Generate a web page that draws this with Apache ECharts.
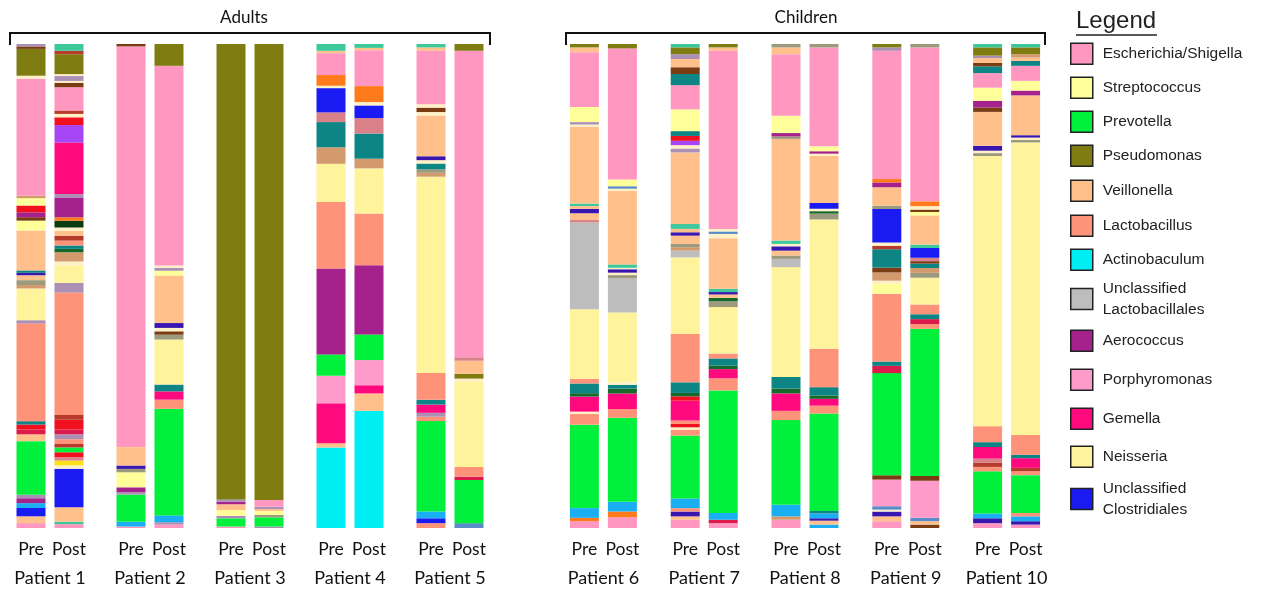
<!DOCTYPE html>
<html>
<head>
<meta charset="utf-8">
<script src="https://cdn.jsdelivr.net/npm/echarts@6/dist/echarts.min.js"></script>
<style>
  html, body { margin: 0; background: #fff; }
  #chart { width: 1278px; height: 590px; }
</style>
</head>
<body>
<div id="chart"></div>
<script>
  // patients in each cohort
  const adults = ['Patient 1', 'Patient 2', 'Patient 3', 'Patient 4', 'Patient 5']
  const children = ['Patient 6', 'Patient 7', 'Patient 8', 'Patient 9', 'Patient 10']
  const timepoints = ['Pre', 'Post']

  // taxa shown in the legend
  const taxaKeys = ['E', 'S', 'P', 'Ps', 'V', 'L', 'A', 'UL', 'Ae', 'Po', 'G', 'N', 'UC']
  const taxaNames = ['Escherichia/Shigella', 'Streptococcus', 'Prevotella', 'Pseudomonas', 'Veillonella',
    'Lactobacillus', 'Actinobaculum', 'Unclassified\nLactobacillales', 'Aerococcus', 'Porphyromonas',
    'Gemella', 'Neisseria', 'Unclassified\nClostridiales']

  // relative abundance (%) per sample, segments listed from top of the bar to bottom
  const p1Pre = [['mau', 0.5], ['brn', 0.5], ['Ps', 5.5], ['crm', 0.6], ['E', 24], ['tan', 0.5], ['S', 1.5], ['red', 1.4], ['Ae', 1], ['brn', 0.7], ['S', 2], ['V', 8.2], ['teal', 0.5], ['ind', 0.5], ['V', 1], ['gry', 1], ['tan', 0.7], ['N', 6.5], ['mau', 0.7], ['L', 20], ['teal', 0.7], ['red', 1], ['crim', 1], ['V', 1.4], ['P', 11], ['mau', 0.7], ['Ae', 1], ['sky', 1], ['UC', 1.7], ['V', 1.4], ['E', 1]]
  const p1Post = [['sea', 1.4], ['brk', 0.7], ['Ps', 4.1], ['crm', 0.4], ['mau', 1], ['crm', 0.4], ['brn', 0.9], ['E', 4.8], ['brk', 0.7], ['crm', 0.7], ['red', 1.6], ['vio', 3.6], ['G', 10.6], ['mau', 0.7], ['Ae', 4.1], ['org', 0.7], ['blk', 1.4], ['crm', 0.7], ['V', 1], ['brk', 1], ['L', 1], ['teal', 0.7], ['dkg', 0.7], ['tan', 1.9], ['crm', 0.8], ['N', 3.6], ['mau', 2], ['L', 25.2], ['brk', 1], ['red', 2], ['crim', 1], ['mau', 1], ['L', 1], ['brk', 0.7], ['P', 1], ['red', 1], ['ros', 0.7], ['yel', 1], ['crm', 0.7], ['UC', 7.9], ['V', 3], ['sea', 0.5], ['E', 0.8]]
  const p2Pre = [['brn', 0.5], ['E', 82.7], ['V', 3.8], ['ind', 0.7], ['gry', 0.7], ['S', 3.1], ['Ae', 1], ['mau', 0.5], ['P', 5.6], ['sky', 1], ['E', 0.3]]
  const p2Post = [['Ps', 4.5], ['E', 41.2], ['crm', 0.5], ['mau', 0.6], ['S', 1], ['V', 9.8], ['ind', 1], ['crm', 0.7], ['brn', 0.7], ['gry', 1], ['N', 9.3], ['teal', 1.4], ['G', 1.7], ['L', 1.9], ['P', 22], ['sky', 1.4], ['mau', 0.5], ['E', 0.7]]
  const p3Pre = [['Ps', 94], ['mau', 0.5], ['Ae', 0.5], ['V', 1.2], ['S', 1.2], ['mau', 0.5], ['P', 1.7], ['E', 0.3]]
  const p3Post = [['Ps', 94.2], ['E', 1.4], ['mau', 0.5], ['V', 0.4], ['S', 0.8], ['gry', 0.5], ['P', 1.9], ['mau', 0.3]]
  const p4Pre = [['sea', 1.4], ['V', 0.5], ['E', 4.5], ['org', 2.2], ['crm', 0.5], ['UC', 5], ['ros', 2], ['teal', 5.2], ['tan', 3.4], ['N', 7.9], ['L', 13.7], ['Ae', 17.7], ['P', 4.4], ['Po', 5.7], ['G', 8.2], ['V', 0.9], ['A', 16.6]]
  const p4Post = [['sea', 0.8], ['V', 0.5], ['E', 7.4], ['org', 3.3], ['crm', 0.7], ['UC', 2.6], ['ros', 3.2], ['teal', 5.2], ['tan', 2], ['N', 9.3], ['L', 10.7], ['Ae', 14.3], ['P', 5.3], ['Po', 5.2], ['G', 1.7], ['V', 3.6], ['A', 24.2]]
  const p5Pre = [['sea', 0.7], ['V', 0.7], ['E', 11], ['crm', 0.7], ['brn', 0.9], ['crm', 0.7], ['V', 8.4], ['ind', 0.8], ['crm', 0.7], ['teal', 1.2], ['gry', 0.7], ['tan', 0.8], ['N', 40.4], ['L', 5.5], ['teal', 1], ['G', 1.7], ['mau', 0.8], ['L', 0.9], ['P', 18.6], ['sky', 1.4], ['UC', 1], ['L', 1]]
  const p5Post = [['Ps', 1.4], ['E', 63.2], ['ros', 0.7], ['V', 2.7], ['Ps', 1], ['crm', 0.7], ['N', 17.5], ['L', 2], ['crim', 0.7], ['P', 8.9], ['stl', 1]]
  const p6Pre = [['Ps', 0.7], ['V', 1], ['E', 11.3], ['S', 3.1], ['mau', 0.5], ['crm', 0.5], ['V', 15.8], ['sea', 0.5], ['V', 0.6], ['ind', 0.9], ['V', 1.4], ['ros', 0.5], ['UL', 17.9], ['N', 14.3], ['L', 1], ['teal', 2], ['dkg', 0.7], ['G', 3.1], ['crm', 0.5], ['L', 2.2], ['P', 17.2], ['sky', 2], ['org', 0.7], ['E', 1.4]]
  const p6Post = [['Ps', 0.9], ['E', 27], ['S', 1.4], ['stl', 0.5], ['crm', 0.5], ['V', 15.1], ['sea', 0.7], ['crm', 0.3], ['ind', 0.7], ['crm', 0.5], ['gry', 0.7], ['UL', 7], ['N', 14.4], ['crm', 0.5], ['teal', 0.8], ['dkg', 1], ['G', 3.2], ['L', 1.8], ['P', 17.3], ['sky', 2], ['org', 1.2], ['E', 2.2]]
  const p7Pre = [['sea', 0.7], ['Ps', 1.4], ['mau', 1], ['V', 1.7], ['brn', 1.4], ['teal', 2.3], ['E', 5], ['S', 4.5], ['teal', 1], ['red', 1], ['vio', 0.9], ['crm', 0.7], ['mau', 0.8], ['V', 14.8], ['sea', 1], ['V', 0.7], ['ind', 0.7], ['V', 1.7], ['gry', 0.7], ['tan', 0.7], ['UL', 1.4], ['N', 15.8], ['L', 10], ['teal', 2.2], ['dkg', 0.7], ['red', 0.9], ['G', 4.1], ['L', 0.7], ['red', 0.7], ['crm', 0.5], ['L', 1.2], ['P', 13], ['sky', 2], ['L', 0.7], ['ind', 1], ['V', 0.7], ['E', 1.7]]
  const p7Post = [['Ps', 0.7], ['V', 0.7], ['E', 36.8], ['crm', 0.5], ['stl', 0.5], ['crm', 0.9], ['V', 10.4], ['sea', 0.7], ['ind', 0.5], ['V', 0.7], ['dkg', 0.7], ['gry', 1.2], ['N', 9.6], ['L', 1], ['teal', 1.5], ['dkg', 0.7], ['G', 1.9], ['L', 2.5], ['P', 25.3], ['sky', 1.4], ['crim', 0.7], ['E', 1]]
  const p8Pre = [['gry', 0.7], ['V', 1.4], ['E', 12.7], ['S', 3.6], ['Ae', 0.7], ['gry', 0.5], ['V', 21], ['sea', 0.7], ['crm', 0.5], ['ind', 0.9], ['V', 1], ['gry', 0.7], ['UL', 1.7], ['N', 22.7], ['teal', 2.4], ['dkg', 1], ['G', 3.6], ['L', 1.9], ['P', 17.5], ['sky', 2.4], ['tan', 0.7], ['E', 1.7]]
  const p8Post = [['gry', 0.7], ['E', 20.3], ['S', 1], ['Ae', 0.5], ['crm', 0.5], ['V', 9.6], ['UC', 1.2], ['crm', 0.5], ['dkg', 0.5], ['gry', 1.2], ['N', 26.5], ['L', 7.9], ['teal', 1.7], ['dkg', 0.7], ['G', 1.4], ['L', 1.6], ['P', 20], ['teal', 0.5], ['sky', 1], ['ind', 0.5], ['V', 0.8], ['sky', 0.7]]
  const p9Pre = [['Ps', 0.7], ['mau', 0.7], ['E', 26.5], ['org', 0.7], ['Ae', 1], ['V', 3.8], ['gry', 0.7], ['UC', 6.9], ['crm', 0.7], ['brk', 0.7], ['teal', 3.8], ['brn', 1], ['tan', 1.7], ['crm', 0.7], ['S', 2], ['L', 14], ['teal', 0.9], ['crim', 1.5], ['P', 21.1], ['brn', 0.9], ['Po', 5.5], ['stl', 0.7], ['crm', 0.4], ['ind', 1], ['V', 1], ['E', 1.4]]
  const p9Post = [['gry', 0.7], ['E', 31.6], ['org', 1], ['crm', 0.7], ['brn', 0.5], ['S', 0.7], ['V', 6], ['sea', 0.7], ['UC', 2], ['ros', 0.7], ['brn', 0.5], ['teal', 0.9], ['tan', 1], ['gry', 1], ['N', 5.5], ['L', 2], ['teal', 1], ['crim', 1], ['L', 1], ['P', 30.2], ['brn', 1], ['Po', 7.6], ['stl', 0.7], ['V', 0.7], ['brn', 0.7]]
  const p10Pre = [['sea', 0.7], ['Ps', 1.7], ['mau', 0.5], ['V', 1], ['brn', 0.7], ['teal', 1.4], ['E', 3], ['S', 2.7], ['Ae', 1.4], ['brn', 0.9], ['V', 7], ['ind', 1], ['crm', 0.5], ['gry', 0.6], ['N', 55.7], ['L', 3.3], ['teal', 1], ['G', 2.4], ['ros', 0.8], ['brk', 0.9], ['L', 0.9], ['P', 8.7], ['sky', 1], ['ind', 1], ['E', 1]]
  const p10Post = [['sea', 0.7], ['Ps', 1.4], ['tan', 0.7], ['V', 0.7], ['teal', 1], ['E', 3.1], ['S', 2], ['Ae', 1], ['V', 8.2], ['ind', 0.5], ['crm', 0.5], ['gry', 0.5], ['N', 60.3], ['L', 4.1], ['teal', 0.7], ['G', 2], ['brk', 0.7], ['L', 0.8], ['P', 7.8], ['L', 0.7], ['sky', 1], ['ind', 0.7], ['E', 0.7]]

  const samples = {
    'Patient 1': [p1Pre, p1Post], 'Patient 2': [p2Pre, p2Post], 'Patient 3': [p3Pre, p3Post],
    'Patient 4': [p4Pre, p4Post], 'Patient 5': [p5Pre, p5Post], 'Patient 6': [p6Pre, p6Post],
    'Patient 7': [p7Pre, p7Post], 'Patient 8': [p8Pre, p8Post], 'Patient 9': [p9Pre, p9Post],
    'Patient 10': [p10Pre, p10Post]
  }

  const palette = {
    E: '#ff97c1', S: '#ffff99', P: '#00f03c', Ps: '#7f7d12', V: '#ffc08c', L: '#ff9379',
    A: '#00edf3', UL: '#bdbdbd', Ae: '#a5218c', Po: '#ff9bcb', G: '#ff0a7e', N: '#fff39b', UC: '#1a1af2',
    mau: '#ab8fb5', brn: '#7a3c12', crm: '#fff0c6', tan: '#d39a6e', red: '#f0101e', crim: '#dc1a4c',
    teal: '#0e8585', ind: '#3a16b0', gry: '#9c9a7c', sky: '#1aaef2', sea: '#3cc89a', brk: '#b83a2a',
    vio: '#a746f5', org: '#ff7a1a', blk: '#0e3a10', dkg: '#16692a', ros: '#d98088', yel: '#ffe01a',
    stl: '#5a8cc8'
  }

  const font = 'Lato'
  const legendMid = [53, 87, 121, 155, 190, 225, 259, 299, 340, 379, 418, 456, 499]

  function buildSeries(patients, gi) {
    const out = []
    timepoints.forEach((tp, t) => {
      const lists = patients.map(p => samples[p][t])
      const depth = Math.max(...lists.map(l => l.length))
      for (let k = 0; k < depth; k++) {
        out.push({
          type: 'bar',
          xAxisIndex: gi,
          yAxisIndex: gi,
          stack: 'g' + gi + tp,
          barWidth: 29,
          barGap: '31%',
          silent: true,
          data: lists.map(l => {
            const seg = l[l.length - 1 - k]
            if (!seg) return '-'
            const total = l.reduce((s, d) => s + d[1], 0)
            return { value: seg[1] * 100 / total, itemStyle: { color: palette[seg[0]] } }
          })
        })
      }
    })
    return out
  }

  function xAxisFor(patients, gi) {
    return {
      type: 'category',
      gridIndex: gi,
      data: patients,
      axisLine: { show: false },
      axisTick: { show: false },
      axisLabel: {
        interval: 0,
        margin: 7,
        formatter: v => '{t|Pre}{t|Post}\n{p|' + v + '}',
        rich: {
          t: { width: 38, align: 'center', fontFamily: font, fontSize: 17.5, lineHeight: 29, color: '#111' },
          p: { width: 90, align: 'center', fontFamily: font, fontSize: 18, lineHeight: 29, color: '#111' }
        }
      }
    }
  }

  // empty series, only there so the legend has its swatches
  const legendSeries = taxaKeys.map((k, i) => ({
    type: 'scatter', name: taxaNames[i], data: [], itemStyle: { color: palette[k], opacity: 1 }
  }))

  const chart = echarts.init(document.getElementById('chart'))
  chart.setOption({
    animation: false,
    title: {
      text: 'Legend', left: 1076, top: 9, padding: 0,
      textStyle: { fontFamily: 'Liberation Sans', fontSize: 24, fontWeight: 'normal', color: '#222' }
    },
    grid: [
      { left: 0, width: 500, top: 44, bottom: 62 },
      { left: 553, width: 504, top: 44, bottom: 62 }
    ],
    xAxis: [xAxisFor(adults, 0), xAxisFor(children, 1)],
    yAxis: [
      { type: 'value', gridIndex: 0, min: 0, max: 100, show: false },
      { type: 'value', gridIndex: 1, min: 0, max: 100, show: false }
    ],
    legend: taxaNames.map((name, i) => {
      const h = name.indexOf('\n') >= 0 ? 42 : 21
      return {
        data: [name],
        left: 1065,
        top: legendMid[i] - h / 2 - 5,
        icon: 'rect',
        itemWidth: 22,
        itemHeight: 21,
        selectedMode: false,
        itemStyle: { borderColor: '#222', borderWidth: 1.5, opacity: 1 },
        textStyle: { fontFamily: 'Liberation Sans', fontSize: 15.5, lineHeight: 21, color: '#222', padding: [0, 0, 0, 5] }
      }
    }),
    graphic: [
      { type: 'polyline', shape: { points: [[10, 45], [10, 33], [490, 33], [490, 45]] }, style: { stroke: '#111', lineWidth: 2, fill: null } },
      { type: 'text', x: 244, y: 18, style: { text: 'Adults', fontFamily: font, fontSize: 17, fill: '#111', align: 'center', verticalAlign: 'middle' } },
      { type: 'polyline', shape: { points: [[566, 45], [566, 33], [1045, 33], [1045, 45]] }, style: { stroke: '#111', lineWidth: 2, fill: null } },
      { type: 'text', x: 806, y: 18, style: { text: 'Children', fontFamily: font, fontSize: 17, fill: '#111', align: 'center', verticalAlign: 'middle' } },
      { type: 'line', shape: { x1: 1076, y1: 35, x2: 1157, y2: 35 }, style: { stroke: '#222', lineWidth: 1.5 } }
    ],
    series: buildSeries(adults, 0).concat(buildSeries(children, 1), legendSeries)
  })
</script>
</body>
</html>
